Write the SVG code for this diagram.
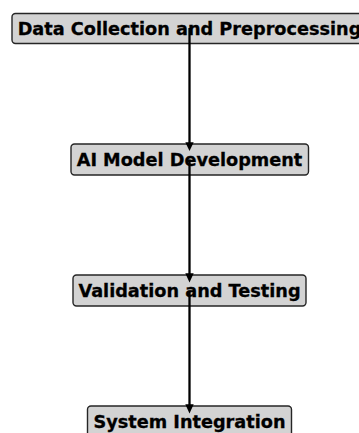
<svg xmlns="http://www.w3.org/2000/svg" width="359" height="433" viewBox="0 0 359 433">
  <style>
    .box { fill: #d3d3d3; stroke: #262626; stroke-width: 1.4; }
    .label { font-family: "DejaVu Sans", sans-serif; font-weight: bold; font-size: 17.7px; fill: #000; stroke: #000; stroke-width: 0.3; text-anchor: middle; }
    .edge { stroke: #000; stroke-width: 2.3; fill: none; }
    .head { fill: #000; }
  </style>
  <rect width="359" height="433" fill="#fff"/>

  <g id="node-data-collection">
    <rect class="box" x="12" y="13.5" width="355" height="30" rx="3.5"/>
    <text class="label" x="189.5" y="34.5">Data Collection and Preprocessing</text>
  </g>
  <g id="node-ai-model">
    <rect class="box" x="71" y="144" width="237.5" height="31" rx="3.5"/>
    <text class="label" x="189.5" y="165.5">AI Model Development</text>
  </g>
  <g id="node-validation">
    <rect class="box" x="73" y="275" width="233" height="31" rx="3.5"/>
    <text class="label" x="189.5" y="296.5">Validation and Testing</text>
  </g>
  <g id="node-integration">
    <rect class="box" x="87.5" y="406" width="204" height="31" rx="3.5"/>
    <text class="label" x="189.5" y="427.5">System Integration</text>
  </g>

  <g id="connectors">
    <line class="edge" x1="189.5" y1="28" x2="189.5" y2="143"/>
    <polygon class="head" points="185.3,142.3 193.7,142.3 189.5,151"/>
    <line class="edge" x1="189.5" y1="159.5" x2="189.5" y2="274"/>
    <polygon class="head" points="185.3,273.3 193.7,273.3 189.5,282.5"/>
    <line class="edge" x1="189.5" y1="290.5" x2="189.5" y2="405"/>
    <polygon class="head" points="185.3,404.3 193.7,404.3 189.5,413.5"/>
  </g>
</svg>
